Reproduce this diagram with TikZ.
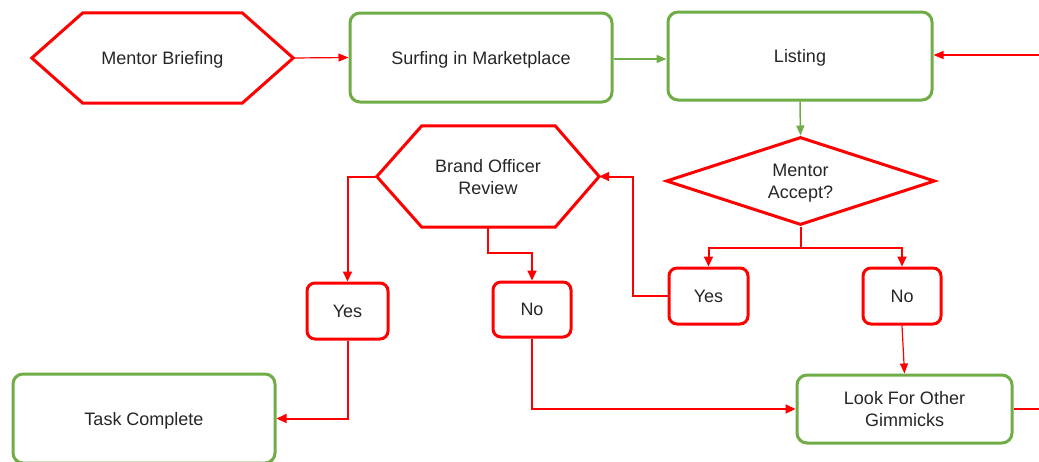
\documentclass[tikz,border=0pt]{standalone}
\usepackage{fontspec}
\setmainfont{Liberation Sans}
\usetikzlibrary{calc,arrows.meta,shapes.geometric}
\definecolor{fred}{HTML}{FF0000}
\definecolor{fgreen}{HTML}{70AD47}
\definecolor{ftext}{HTML}{262626}
\begin{document}
\begin{tikzpicture}[x=1pt,y=-1pt,
  every node/.style={font=\fontsize{18}{22}\selectfont, text=ftext, align=center, inner sep=0pt, text depth=0pt},
  gbox/.style={draw=fgreen, line width=3pt, rounded corners=10pt, rectangle},
  rbox/.style={draw=fred, line width=3pt, rounded corners=8pt, rectangle},
  hexframe/.style={rectangle},
  hexline/.style={draw=fred, line width=3pt, line join=miter},
  rdiam/.style={draw=fred, line width=3pt, diamond, aspect=3},
  rcon/.style={draw=fred, line width=2pt, -{Triangle[length=10pt,width=9pt]}},
  rthin/.style={draw=fred, line width=1.2pt, -{Triangle[length=10pt,width=8pt]}},
  gthin/.style={draw=fgreen, line width=1.5pt, -{Triangle[length=10pt,width=8pt]}}]
\useasboundingbox (0,0) rectangle (1039,461);
\fill[white] (0,0) rectangle (1039,461);

% nodes
\node[hexframe, minimum width=261pt, minimum height=90pt] (mb) at (162.5,58) {Mentor Briefing};
\draw[hexline] (mb.west) -- ($(mb.north west)+(51,0)$) -- ($(mb.north east)+(-51,0)$) -- (mb.east)
  -- ($(mb.south east)+(-51,0)$) -- ($(mb.south west)+(51,0)$) -- cycle;
\node[gbox, minimum width=262pt, minimum height=89pt] (surf) at (481,57.5) {Surfing in Marketplace};
\node[gbox, minimum width=264pt, minimum height=88pt] (list) at (800,56) {Listing};
\node[rdiam, minimum width=269pt, minimum height=88pt] (dia) at (800.5,181) {Mentor\\Accept?};
\node[hexframe, minimum width=222pt, minimum height=101pt] (bor) at (488,176.5) {Brand Officer\\Review};
\draw[hexline] (bor.west) -- ($(bor.north west)+(45,0)$) -- ($(bor.north east)+(-44,0)$) -- (bor.east)
  -- ($(bor.south east)+(-44,0)$) -- ($(bor.south west)+(45,0)$) -- cycle;
\node[rbox, minimum width=79pt, minimum height=56pt] (yesR) at (708.5,296) {Yes};
\node[rbox, minimum width=78pt, minimum height=56pt] (noR) at (902,296) {No};
\node[rbox, minimum width=81pt, minimum height=56pt] (yesL) at (347.5,311) {Yes};
\node[rbox, minimum width=78pt, minimum height=55pt] (noL) at (532,309.5) {No};
\node[gbox, minimum width=262pt, minimum height=89pt] (task) at (144,418.5) {Task Complete};
\node[gbox, minimum width=215pt, minimum height=68pt] (gim) at (904.5,409) {Look For Other\\Gimmicks};
\coordinate (rin) at (1039,55);
\coordinate (rout) at (1039,409);

% connectors
\draw[rthin] (mb.east) -- (surf.west);
\draw[gthin] ($(surf.east)+(0,1.5)$) -- ($(surf.east -| list.west)+(0,1.5)$);
\draw[rthin] (rin) -- (rin -| list.east);
\draw[gthin] (list.south) -- (dia.north);
\draw[rcon] (dia.south) -- ++(0,21) -| (yesR.north);
\draw[rcon] (dia.south) -- ++(0,21) -| (noR.north);
\draw[rcon] (yesR.west) -- ++(-35,0) |- (bor.east);
\draw[rcon] (bor.south) -- ++(0,26) -| (noL.north);
\draw[rcon] (bor.west) -| (yesL.north);
\draw[rcon] (yesL.south) |- (task.east);
\draw[rcon] (noL.south) |- (gim.west);
\draw[rthin] (noR.south) -- (gim.north);
\draw[fred, line width=1.2pt] (gim.east) -- (rout);
\end{tikzpicture}
\end{document}
